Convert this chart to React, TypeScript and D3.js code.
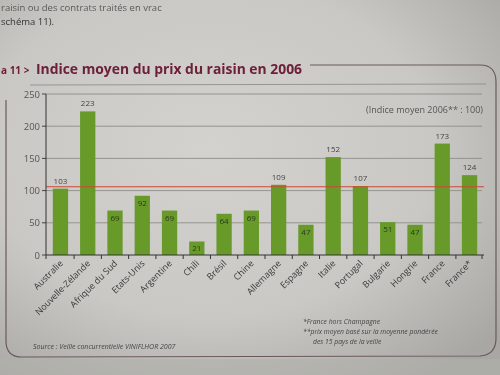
import React from "react";
import * as d3 from "d3";

const categories = ["Australie", "Nouvelle-Zélande", "Afrique du Sud", "Etats-Unis", "Argentine", "Chili", "Brésil", "Chine", "Allemagne", "Espagne", "Italie", "Portugal", "Bulgarie", "Hongrie", "France", "France*"];
const values = [103, 223, 69, 92, 69, 21, 64, 69, 109, 47, 152, 107, 51, 47, 173, 124];
const yTicks = [0, 50, 100, 150, 200, 250];
const refValue = 106;
const footnotes = ["*France hors Champagne", "**prix moyen basé sur la moyenne pondérée", "des 15 pays de la veille"];

export default function App() {
  const W = 500, H = 375;
  const y = d3.scaleLinear().domain([0, 250]).range([255, 94]);
  const x = d3.scaleBand<string>().domain(categories).range([46, 484]).paddingInner(0.44).paddingOuter(0.25);
  const bw = x.bandwidth();
  const gap = x.step() - bw;
  const tickXs = [46, ...categories.map((c) => (x(c) as number) + bw + gap / 2)];
  tickXs[tickXs.length - 1] = 482;
  const font = "'Open Sans', 'DejaVu Sans', sans-serif";
  return (
    <svg width={W} height={H} style={{ position: "fixed", left: 0, top: 0 }} fontFamily={font}>
      <defs>
        <radialGradient id="bg" cx="0.42" cy="0.4" r="0.75">
          <stop offset="0" stopColor="#d3d2ce" />
          <stop offset="0.6" stopColor="#c9c8c4" />
          <stop offset="1" stopColor="#a8a7a3" />
        </radialGradient>
      </defs>
      <rect x={0} y={0} width={W} height={H} fill="url(#bg)" />
      <rect x={0} y={359} width={W} height={16} fill="#b1b0ac" opacity={0.6} />
      {/* text above */}
      <text x={1} y={11} fontSize={9.5} fill="#333" opacity={0.75}>raisin ou des contrats traités en vrac</text>
      <text x={1} y={25} fontSize={9.5} fill="#333">schéma 11).</text>
      {/* title */}
      <text x={1} y={74} fontSize={10} fontWeight="bold" fill="#6d2038">a 11 &gt;</text>
      <text x={36} y={74} fontSize={15} fontWeight="bold" fill="#6d2038" textLength={266} lengthAdjust="spacingAndGlyphs">Indice moyen du prix du raisin en 2006</text>
      {/* frame */}
      <path d="M310,65 L480,65 Q496,65 496,82 L496,338 Q496,355 480,356 L22,357 Q6,357 6,341 L6,100" fill="none" stroke="#6a5a5e" strokeWidth={1.2} />
      <line x1={30} x2={486} y1={85} y2={84} stroke="#888" strokeWidth={0.8} />
      {/* gridlines */}
      {yTicks.filter((t) => t > 0).map((t) => (
        <line key={t} x1={46} x2={482} y1={y(t)} y2={y(t)} stroke="#8e8d8a" strokeWidth={0.9} />
      ))}
      {/* y ticks */}
      {yTicks.map((t) => (
        <g key={t}>
          <line x1={42} x2={46} y1={y(t)} y2={y(t)} stroke="#444" />
          <text x={40} y={y(t) + 3.5} fontSize={9.5} fill="#555" textAnchor="end">{t}</text>
        </g>
      ))}
      {/* bars */}
      {categories.map((c, i) => (
        <rect key={c} x={x(c)} y={y(values[i])} width={bw} height={y(0) - y(values[i])} fill="#679a29" />
      ))}
      {/* reference line */}
      <line x1={46} x2={484} y1={y(refValue)} y2={y(refValue)} stroke="#cc4a35" strokeWidth={1.2} />
      {/* value labels */}
      {categories.map((c, i) => {
        const v = values[i];
        const inside = v < 100;
        return (
          <text key={c} x={(x(c) as number) + bw / 2} y={inside ? y(v) + 10 : y(v) - 5} fontSize={8} textAnchor="middle" fill={inside ? "#2b3a18" : "#444"}>{v}</text>
        );
      })}
      {/* axes */}
      <line x1={46} x2={46} y1={y(250)} y2={y(0)} stroke="#333" strokeWidth={1} />
      <line x1={46} x2={484} y1={y(0)} y2={y(0)} stroke="#333" strokeWidth={1} />
      {tickXs.map((tx, i) => (
        <line key={i} x1={tx} x2={tx} y1={y(0)} y2={y(0) + 4} stroke="#333" />
      ))}
      {/* category labels */}
      {categories.map((c) => {
        const cx = (x(c) as number) + bw / 2 + 3;
        const cy = 264;
        return (
          <text key={c} x={cx} y={cy} fontSize={9} fill="#3a3a3a" textAnchor="end" transform={`rotate(-45 ${cx} ${cy})`}>{c}</text>
        );
      })}
      {/* legend note */}
      <text x={483} y={113} fontSize={9} fill="#555" textAnchor="end">(Indice moyen 2006** : 100)</text>
      {/* footnotes */}
      {footnotes.map((f, i) => (
        <text key={i} x={i === 2 ? 313 : 303} y={324 + i * 10} fontSize={6.8} fontStyle="italic" fill="#444">{f}</text>
      ))}
      <text x={33} y={349} fontSize={7} fontStyle="italic" fill="#444">Source : Veille concurrentielle VINIFLHOR 2007</text>
    </svg>
  );
}
